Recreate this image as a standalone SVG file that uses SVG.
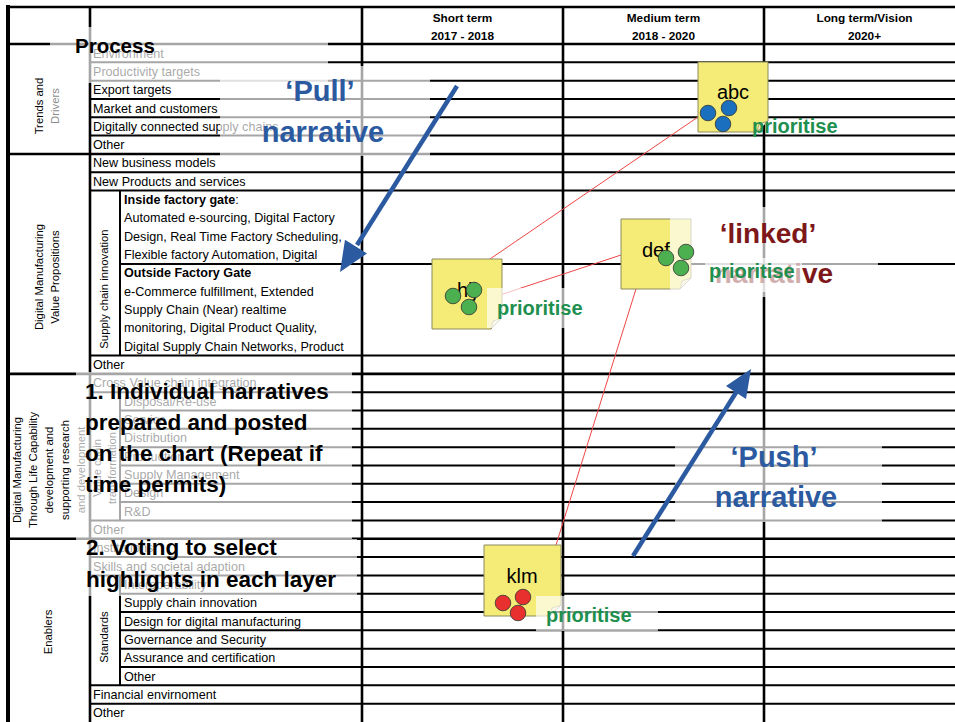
<svg xmlns="http://www.w3.org/2000/svg" width="955" height="722" viewBox="0 0 955 722">
<style>
.g{stroke:#000;stroke-width:2;fill:none}
.gt{stroke:#000;stroke-width:2.6;fill:none}
.t{font-family:"Liberation Sans",Arial,sans-serif;font-size:12.6px;fill:#000}
.b{font-weight:bold}
.v{font-family:"Liberation Sans",Arial,sans-serif;font-size:11.3px;fill:#000;text-anchor:middle}
.h{font-family:"Liberation Sans",Arial,sans-serif;font-size:11.8px;font-weight:bold;fill:#000;text-anchor:middle}
.veil{fill:#fff;fill-opacity:0.65}
.big{font-family:"Liberation Sans",Arial,sans-serif;font-size:22.5px;font-weight:bold;fill:#000}
.nar{font-family:"Liberation Sans",Arial,sans-serif;font-size:29px;font-weight:bold;fill:#2C5AA0;text-anchor:middle}
.lnk{font-family:"Liberation Sans",Arial,sans-serif;font-size:28px;font-weight:bold;fill:#7D1719;text-anchor:middle}
.pri{font-family:"Liberation Sans",Arial,sans-serif;font-size:20px;font-weight:bold;fill:#1E8F4E}
.sticky{fill:#F4EC76;stroke:#8C8A60;stroke-width:1}
.curl{fill:#EEEBC4;stroke:#8C8A60;stroke-width:0.7}
.lbl{font-family:"Liberation Sans",Arial,sans-serif;font-size:20px;fill:#000}
.dot{stroke:#333;stroke-width:0.8}
.link{stroke:#F04646;stroke-width:1;fill:none}
.arr{stroke:#2C5AA0;stroke-width:4.5;fill:none}
.ah{fill:#2C5AA0}
</style>

<g id="table">
  <!-- outer border -->
  <path class="gt" d="M6 7 H955"/>
  <path d="M8 5 V722" stroke="#000" stroke-width="4"/>
  <!-- column verticals -->
  <path class="gt" d="M90 7 V722 M362 7 V722 M563 7 V722 M764 7 V722"/>
  <!-- section lines (full width) -->
  <path class="gt" d="M8 44 H955 M8 153.95 H955 M8 373.84 H955 M8 538.75 H955"/>
  <!-- row lines from 90 -->
  <path class="g" d="M90 62.32 H955 M90 80.65 H955 M90 98.97 H955 M90 117.3 H955 M90 135.62 H955 M90 172.27 H955 M90 190.59 H955 M90 355.51 H955 M90 392.16 H955 M90 520.43 H955 M90 557.08 H955 M90 575.4 H955 M90 685.35 H955 M90 703.67 H955"/>
  <!-- row lines from 120 -->
  <path class="g" d="M120 263.89 H955 M120 410.48 H955 M120 428.81 H955 M120 447.13 H955 M120 465.46 H955 M120 483.78 H955 M120 502.1 H955 M120 593.73 H955 M120 612.05 H955 M120 630.37 H955 M120 648.7 H955 M120 667.02 H955"/>
  <!-- sub column verticals -->
  <path class="g" d="M120 190.59 V355.51 M120 392.16 V520.43 M120 575.4 V685.35"/>

  <!-- header -->
  <text class="h" x="462.5" y="22">Short term</text>
  <text class="h" x="462.5" y="40">2017 - 2018</text>
  <text class="h" x="663.5" y="22">Medium term</text>
  <text class="h" x="663.5" y="40">2018 - 2020</text>
  <text class="h" x="864.5" y="22">Long term/Vision</text>
  <text class="h" x="864.5" y="40">2020+</text>

  <!-- left vertical labels -->
  <g transform="translate(0,106)">
    <text class="v" transform="translate(43,0) rotate(-90)">Trends and</text>
    <text class="v" transform="translate(59,0) rotate(-90)" style="fill:#8a8a8a">Drivers</text>
  </g>
  <g transform="translate(0,277)">
    <text class="v" transform="translate(43,0) rotate(-90)">Digital Manufacturing</text>
    <text class="v" transform="translate(59,0) rotate(-90)">Value Propositions</text>
  </g>
  <g transform="translate(0,470)">
    <text class="v" transform="translate(21,0) rotate(-90)">Digital Manufacturing</text>
    <text class="v" transform="translate(37,0) rotate(-90)">Through Life Capability</text>
    <text class="v" transform="translate(53,0) rotate(-90)">development and</text>
    <text class="v" transform="translate(69,0) rotate(-90)">supporting research</text>
    <text class="v" transform="translate(85,0) rotate(-90)">and development</text>
  </g>
  <text class="v" transform="translate(52,632) rotate(-90)">Enablers</text>
  <text class="v" transform="translate(108,289) rotate(-90)">Supply chain innovation</text>
  <g transform="translate(0,468)">
    <text class="v" transform="translate(101,0) rotate(-90)">Value chain</text>
    <text class="v" transform="translate(116,0) rotate(-90)">transformation</text>
  </g>
  <text class="v" transform="translate(108,637) rotate(-90)">Standards</text>

  <!-- row texts -->
  <text class="t" x="93" y="57.5">Environment</text>
  <text class="t" x="93" y="75.8">Productivity targets</text>
  <text class="t" x="93" y="94.15">Export targets</text>
  <text class="t" x="93" y="112.5">Market and customers</text>
  <text class="t" x="93" y="130.8">Digitally connected supply chains</text>
  <text class="t" x="93" y="149.1">Other</text>
  <text class="t" x="93" y="167.45">New business models</text>
  <text class="t" x="93" y="185.8">New Products and services</text>
  <text class="t" x="124" y="204.1"><tspan class="b">Inside factory gate</tspan>:</text>
  <text class="t" x="124" y="222.4">Automated e-sourcing, Digital Factory</text>
  <text class="t" x="124" y="240.75">Design, Real Time Factory Scheduling,</text>
  <text class="t" x="124" y="259.1">Flexible factory Automation, Digital</text>
  <text class="t b" x="124" y="277.4">Outside Factory Gate</text>
  <text class="t" x="124" y="295.7">e-Commerce fulfillment, Extended</text>
  <text class="t" x="124" y="314.05">Supply Chain (Near) realtime</text>
  <text class="t" x="124" y="332.4">monitoring, Digital Product Quality,</text>
  <text class="t" x="124" y="350.7">Digital Supply Chain Networks, Product</text>
  <text class="t" x="93" y="369">Other</text>
  <text class="t" x="93" y="387.35">Cross Value chain integration</text>
  <text class="t" x="124" y="405.7">Disposal/Re-use</text>
  <text class="t" x="124" y="424">Service</text>
  <text class="t" x="124" y="442.3">Distribution</text>
  <text class="t" x="124" y="460.6">Production</text>
  <text class="t" x="124" y="479">Supply Management</text>
  <text class="t" x="124" y="497.3">Design</text>
  <text class="t" x="124" y="515.6">R&amp;D</text>
  <text class="t" x="93" y="533.9">Other</text>
  <text class="t" x="93" y="552.25">Institutions</text>
  <text class="t" x="93" y="570.6">Skills and societal adaption</text>
  <text class="t" x="124" y="588.9">Interoperability</text>
  <text class="t" x="124" y="607.2">Supply chain innovation</text>
  <text class="t" x="124" y="625.55">Design for digital manufacturing</text>
  <text class="t" x="124" y="643.9">Governance and Security</text>
  <text class="t" x="124" y="662.2">Assurance and certification</text>
  <text class="t" x="124" y="680.5">Other</text>
  <text class="t" x="93" y="698.85">Financial envirnoment</text>
  <text class="t" x="93" y="717.2">Other</text>
</g>

<g id="connectors">
  <path class="link" d="M490 259 L698 117"/>
  <path class="link" d="M500 295 L621 255"/>
  <path class="link" d="M636 289 L556 545"/>
</g>

<g id="node-abc">
  <path class="sticky" d="M698 62 H768 V121 L757 132 H698 Z"/>
  <path class="curl" d="M757 132 L768 121 L759 124 Z"/>
  <text class="lbl" x="733" y="99" text-anchor="middle">abc</text>
</g>
<g id="node-hij">
  <path class="sticky" d="M432 259 H502 V318 L491 329 H432 Z"/>
  <path class="curl" d="M491 329 L502 318 L493 321 Z"/>
  <text class="lbl" x="467" y="297" text-anchor="middle">hij</text>
</g>
<g id="node-def">
  <path class="sticky" d="M621 219 H691 V278 L680 289 H621 Z"/>
  <path class="curl" d="M680 289 L691 278 L682 281 Z"/>
  <text class="lbl" x="642" y="257">def</text>
</g>
<g id="node-klm">
  <path class="sticky" d="M484 545 H561 V605 L550 616 H484 Z"/>
  <path class="curl" d="M550 616 L561 605 L552 608 Z"/>
  <text class="lbl" x="522" y="583" text-anchor="middle">klm</text>
</g>

<g id="note-process">
  <rect class="veil" x="50" y="27" width="278" height="56"/>
  <text class="big" x="75" y="53" style="font-size:20.5px">Process</text>
</g>
<g id="note-pull">
  <rect class="veil" x="220" y="66" width="210" height="90"/>
  <text class="nar" x="320" y="101">‘Pull’</text>
  <text class="nar" x="323" y="142">narrative</text>
</g>
<g id="note-step1">
  <rect class="veil" x="76" y="372" width="276" height="167"/>
  <text class="big" x="85" y="399">1. Individual narratives</text>
  <text class="big" x="85" y="430">prepared and posted</text>
  <text class="big" x="85" y="461">on the chart (Repeat if</text>
  <text class="big" x="85" y="492">time permits)</text>
</g>
<g id="note-step2">
  <rect class="veil" x="76" y="539" width="281" height="57"/>
  <text class="big" x="86" y="555">2. Voting to select</text>
  <text class="big" x="86" y="587">highlights in each layer</text>
</g>
<g id="note-linked">
  <rect class="veil" x="670" y="207" width="208" height="90"/>
  <text class="lnk" x="768" y="243">‘linked’</text>
  <text class="lnk" x="774" y="283">narrative</text>
</g>
<g id="note-push">
  <rect class="veil" x="675" y="430" width="207" height="92"/>
  <text class="nar" x="774" y="467">‘Push’</text>
  <text class="nar" x="776" y="507">narrative</text>
</g>
<g id="prioritise-labels">
  <text class="pri" x="752" y="133">prioritise</text>
  <rect class="veil" x="487" y="288" width="103" height="40"/>
  <text class="pri" x="497" y="315">prioritise</text>
  <rect class="veil" x="705" y="258" width="97" height="34"/>
  <text class="pri" x="709" y="278">prioritise</text>
  <rect class="veil" x="536" y="596" width="122" height="35"/>
  <text class="pri" x="546" y="622">prioritise</text>
</g>

<g id="votes">
  <circle class="dot" cx="708" cy="113" r="7.8" fill="#1A6FBF"/>
  <circle class="dot" cx="729" cy="108" r="7.8" fill="#1A6FBF"/>
  <circle class="dot" cx="723" cy="124" r="7.8" fill="#1A6FBF"/>
  <circle class="dot" cx="453" cy="296" r="7.8" fill="#4CAF50"/>
  <circle class="dot" cx="474" cy="290" r="7.8" fill="#4CAF50"/>
  <circle class="dot" cx="469" cy="307" r="7.8" fill="#4CAF50"/>
  <circle class="dot" cx="666" cy="258" r="7.8" fill="#4CAF50"/>
  <circle class="dot" cx="686" cy="252" r="7.8" fill="#4CAF50"/>
  <circle class="dot" cx="681" cy="268" r="7.8" fill="#4CAF50"/>
  <circle class="dot" cx="503" cy="603" r="7.8" fill="#E8302E"/>
  <circle class="dot" cx="523" cy="597" r="7.8" fill="#E8302E"/>
  <circle class="dot" cx="518" cy="613" r="7.8" fill="#E8302E"/>
</g>

<g id="connectors-arrows">
  <path class="arr" d="M457 86 L357 245"/>
  <path class="ah" d="M340 272 L367 253.5 L345 239.7 Z"/>
  <path class="arr" d="M633 556 L737 391"/>
  <path class="ah" d="M751 369 L746 399 L726 386 Z"/>
</g>
</svg>
